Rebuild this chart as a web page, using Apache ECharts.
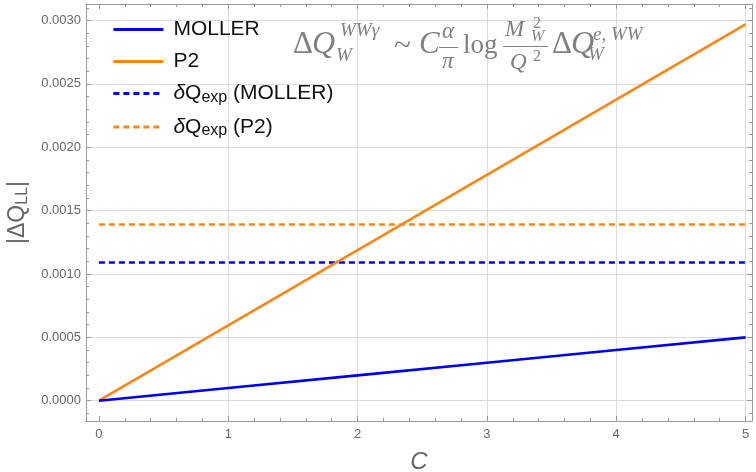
<!DOCTYPE html>
<html>
<head>
<meta charset="utf-8">
<script src="https://cdn.jsdelivr.net/npm/echarts@6/dist/echarts.min.js"></script>
<style>
  html, body { margin: 0; padding: 0; background: #fff; }
  #chart { width: 756px; height: 472px; }
</style>
</head>
<body>
<div id="chart"></div>
<script>
// ---- data ----
const cValues = [0, 1, 2, 3, 4, 5];
const mollerValues = [0, 0.0001, 0.0002, 0.0003, 0.0004, 0.0005];
const p2Values = [0, 0.000594, 0.001188, 0.001782, 0.002376, 0.00297];
const expC = [0, 5];
const mollerExpValues = [0.00109, 0.00109];
const p2ExpValues = [0.00139, 0.00139];
const seriesNames = ['MOLLER', 'P2', 'δQexp (MOLLER)', 'δQexp (P2)'];

// ---- ticks ----
const xTicks = [0, 1, 2, 3, 4, 5];
const xMinorTicks = [0.2, 0.4, 0.6, 0.8, 1.2, 1.4, 1.6, 1.8, 2.2, 2.4, 2.6, 2.8,
                     3.2, 3.4, 3.6, 3.8, 4.2, 4.4, 4.6, 4.8];
const yTicks = [0, 0.0005, 0.001, 0.0015, 0.002, 0.0025, 0.003];
const yMinorTicks = [-0.0001, 0.0001, 0.0002, 0.0003, 0.0004, 0.0006, 0.0007, 0.0008, 0.0009,
                     0.0011, 0.0012, 0.0013, 0.0014, 0.0016, 0.0017, 0.0018, 0.0019,
                     0.0021, 0.0022, 0.0023, 0.0024, 0.0026, 0.0027, 0.0028, 0.0029, 0.0031];
const xMin = -0.1, xMax = 5.05;
const yMin = -0.00016, yMax = 0.00313;

const SANS = '"Liberation Sans", Arial, Helvetica, sans-serif';
const SERIF = '"Liberation Serif", "Times New Roman", serif';
const frameColor = '#9a9a9a';
const labelColor = '#666';
const blue = '#0000f0';
const orange = '#ff8410';

function pairs(xs, ys) { return xs.map((x, i) => [x, ys[i]]); }

function xAxisDef(position, ticks, len, major) {
  return {
    type: 'value', position: position, min: xMin, max: xMax,
    axisLine: { show: major, onZero: false, lineStyle: { color: frameColor, width: 1 } },
    axisTick: { show: true, inside: true, length: len, customValues: ticks, lineStyle: { color: frameColor, width: 1 } },
    axisLabel: { show: false },
    splitLine: { show: false }
  };
}
function yAxisDef(position, ticks, len, major) {
  return {
    type: 'value', position: position, min: yMin, max: yMax,
    axisLine: { show: major, onZero: false, lineStyle: { color: frameColor, width: 1 } },
    axisTick: { show: true, inside: true, length: len, customValues: ticks, lineStyle: { color: frameColor, width: 1 } },
    axisLabel: { show: false },
    splitLine: { show: false }
  };
}

const xMain = xAxisDef('bottom', xTicks, 5, true);
xMain.axisLabel = { show: true, customValues: xTicks, margin: 7, color: labelColor, fontSize: 13, fontFamily: SANS,
                    formatter: v => String(v) };
xMain.splitLine = { show: true, lineStyle: { color: ['rgba(0,0,0,0)', '#dcdcdc', '#dcdcdc', '#dcdcdc', '#dcdcdc', '#dcdcdc'], width: 1 } };
xMain.name = 'C';
xMain.nameLocation = 'middle';
xMain.nameGap = 29;
xMain.nameTextStyle = { color: labelColor, fontSize: 24, fontStyle: 'italic', fontFamily: SANS };

const yMain = yAxisDef('left', yTicks, 5, true);
yMain.axisLabel = { show: true, customValues: yTicks, margin: 5, color: labelColor, fontSize: 13, fontFamily: SANS,
                    formatter: v => Number(v).toFixed(4) };
yMain.splitLine = { show: true, lineStyle: { color: '#dcdcdc', width: 1 } };
yMain.name = '{a||ΔQ}{s|LL}{a||}';
yMain.nameLocation = 'middle';
yMain.nameRotate = 90;
yMain.nameGap = 42;
yMain.nameTextStyle = {
  color: labelColor, fontFamily: SANS,
  rich: {
    a: { fontSize: 23, lineHeight: 26, color: labelColor, fontFamily: SANS },
    s: { fontSize: 16, lineHeight: 20, verticalAlign: 'bottom', color: labelColor, fontFamily: SANS }
  }
};

// ---- formula annotation pieces (text only) ----
const fc = '#808080';
function tx(str, x, base, size, italic) {
  return { type: 'text', x: x, y: base - 0.34 * size, silent: true, z: 50,
           style: { text: str, fontSize: size, fontFamily: SERIF, fontStyle: italic ? 'italic' : 'normal',
                    fill: fc, align: 'left', verticalAlign: 'middle' } };
}
function bar(x1, x2, y) {
  return { type: 'line', silent: true, z: 50, shape: { x1: x1, y1: y, x2: x2, y2: y },
           style: { stroke: fc, lineWidth: 1 } };
}
const formula = [
  tx('Δ', 293, 55, 31, false), tx('Q', 312, 55, 32, true),
  tx('WWγ', 340, 37, 19, true), tx('W', 336, 62, 19, true),
  tx('~', 394, 57, 31, false),
  tx('C', 419, 55, 31, true),
  tx('α', 442, 40, 23, true), bar(439, 458, 47.5), tx('π', 442, 70, 23, true),
  tx('log', 463, 55, 27, false),
  tx('M', 505, 38, 23, true), tx('2', 533, 29, 16, false), tx('W', 531, 42, 16, true),
  bar(503, 548, 46.5),
  tx('Q', 510, 71, 23, true), tx('2', 533, 62, 16, false),
  tx('Δ', 552, 55, 31, false), tx('Q', 571, 55, 32, true),
  tx('e, WW', 593, 41, 19, true), tx('W', 588, 61, 19, true)
];

const chart = echarts.init(document.getElementById('chart'), null, { renderer: 'canvas' });
chart.setOption({
  animation: false,
  backgroundColor: '#fff',
  grid: { left: 86, right: 4, top: 4, bottom: 51, outerBoundsMode: 'none', containLabel: false },
  xAxis: [xMain, xAxisDef('bottom', xMinorTicks, 3, false),
          xAxisDef('top', xTicks, 5, true), xAxisDef('top', xMinorTicks, 3, false)],
  yAxis: [yMain, yAxisDef('left', yMinorTicks, 3, false),
          yAxisDef('right', yTicks, 5, true), yAxisDef('right', yMinorTicks, 3, false)],
  legend: {
    orient: 'vertical', left: 112, top: 19, padding: 0, itemGap: 11,
    itemWidth: 50, itemHeight: 14, selectedMode: false,
    itemStyle: { color: 'rgba(0,0,0,0)', borderColor: 'rgba(0,0,0,0)', borderWidth: 0, opacity: 0 },
    lineStyle: { width: 2.8 },
    data: seriesNames,
    formatter: function (name) {
      if (name.indexOf('δQexp') === 0) {
        return '{d|δ}{a|Q}{s|exp}{a|' + name.slice(5) + '}';
      }
      return '{a|' + name + '}';
    },
    textStyle: {
      color: '#111', padding: [0, 0, 0, 5],
      rich: {
        a: { fontSize: 21, lineHeight: 24, color: '#111', fontFamily: SANS },
        d: { fontSize: 21, lineHeight: 24, color: '#111', fontFamily: SANS, fontStyle: 'italic' },
        s: { fontSize: 16, lineHeight: 19, verticalAlign: 'bottom', color: '#111', fontFamily: SANS }
      }
    }
  },
  series: [
    { name: seriesNames[0], type: 'line', data: pairs(cValues, mollerValues), symbol: 'none',
      lineStyle: { color: blue, width: 2.6 }, itemStyle: { color: blue }, z: 5 },
    { name: seriesNames[1], type: 'line', data: pairs(cValues, p2Values), symbol: 'none',
      lineStyle: { color: orange, width: 2.6 }, itemStyle: { color: orange }, z: 4 },
    { name: seriesNames[2], type: 'line', data: pairs(expC, mollerExpValues), symbol: 'none',
      lineStyle: { color: blue, width: 2.6, type: [6, 4] }, itemStyle: { color: blue }, z: 3 },
    { name: seriesNames[3], type: 'line', data: pairs(expC, p2ExpValues), symbol: 'none',
      lineStyle: { color: orange, width: 2.6, type: [6, 4] }, itemStyle: { color: orange }, z: 3 }
  ],
  graphic: formula
});
</script>
</body>
</html>
